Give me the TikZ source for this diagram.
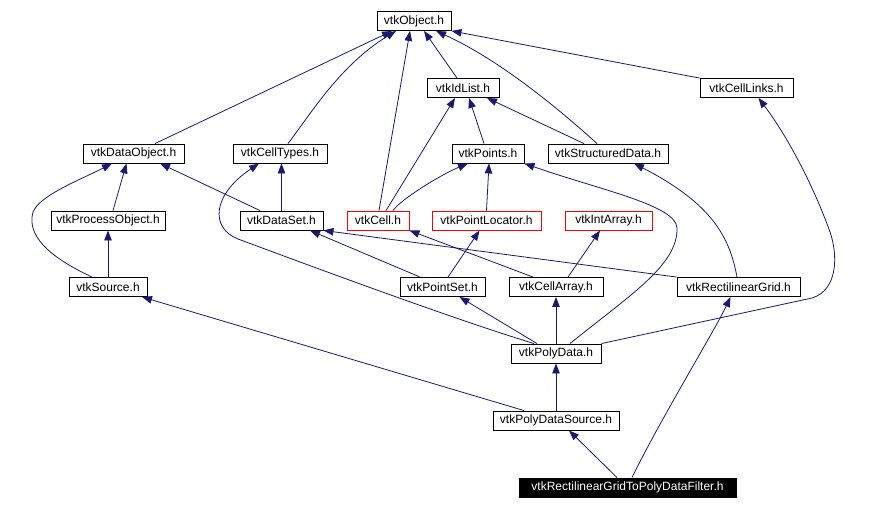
\documentclass[tikz,border=0pt]{standalone}
\usepackage{fontspec}
\setmainfont{Liberation Sans}
\usepackage{xcolor}
\usetikzlibrary{arrows.meta}
\definecolor{edgeblue}{HTML}{191970}

\begin{document}
\begin{tikzpicture}[x=1pt, y=-1pt,
    file/.style={draw, line width=0.9pt, fill=white, minimum height=19pt, inner sep=0pt, font=\fontsize{12}{14}\selectfont},
    missing/.style={file, draw=red},
    edge/.style={edgeblue, line width=0.8pt, -{Triangle[length=10pt,width=7.5pt]}}]
            \useasboundingbox (0,0) rectangle (874,509);
            \node[file, minimum width=74pt] (object) at (414,21) {vtkObject.h};
            \node[file, minimum width=72pt] (idlist) at (463,88) {vtkIdList.h};
            \node[file, minimum width=93pt] (celllinks) at (746.5,88) {vtkCellLinks.h};
            \node[file, minimum width=101pt] (dataobject) at (133.5,153.5) {vtkDataObject.h};
            \node[file, minimum width=94pt] (celltypes) at (280,153.5) {vtkCellTypes.h};
            \node[file, minimum width=72pt] (points) at (488,153.5) {vtkPoints.h};
            \node[file, minimum width=120pt] (structdata) at (608,153.5) {vtkStructuredData.h};
            \node[file, minimum width=114pt] (processobject) at (108,220.5) {vtkProcessObject.h};
            \node[file, minimum width=83pt] (dataset) at (281.5,220.5) {vtkDataSet.h};
            \node[missing, minimum width=62pt] (cell) at (378,220.5) {vtkCell.h};
            \node[missing, minimum width=109pt] (pointlocator) at (486.5,220.5) {vtkPointLocator.h};
            \node[missing, minimum width=87pt] (intarray) at (608.5,220.5) {vtkIntArray.h};
            \node[file, minimum width=78pt] (source) at (108,287) {vtkSource.h};
            \node[file, minimum width=85pt] (pointset) at (442.5,287) {vtkPointSet.h};
            \node[file, minimum width=94pt] (cellarray) at (556,287) {vtkCellArray.h};
            \node[file, minimum width=123pt] (rectgrid) at (738.5,287) {vtkRectilinearGrid.h};
            \node[file, minimum width=90pt] (polydata) at (556,353.5) {vtkPolyData.h};
            \node[file, minimum width=126pt] (polysource) at (556,420.5) {vtkPolyDataSource.h};
            \node[file, fill=black, text=white, minimum width=217pt] (filter) at (627.5,487.5) {vtkRectilinearGridToPolyDataFilter.h};
            \draw[edge] ([xshift=21.5pt]dataobject.north) -- ([xshift=-22pt]object.south);
            \draw[edge] ([xshift=8pt]celltypes.north) .. controls (310,115) and (340,65) .. ([xshift=-18pt]object.south);
            \draw[edge] ([xshift=1pt]cell.north) -- ([xshift=-4pt]object.south);
            \draw[edge] ([xshift=-6pt]idlist.north) -- ([xshift=10pt]object.south);
            \draw[edge] ([xshift=-11pt]structdata.north) .. controls (560,110) and (500,60) .. ([xshift=22pt]object.south);
            \draw[edge] (celllinks.north west) -- (object.south east);
            \draw[edge] ([xshift=8pt]cell.north) -- ([xshift=-8pt]idlist.south);
            \draw[edge] ([xshift=-4pt]points.north) -- ([xshift=6pt]idlist.south);
            \draw[edge] ([xshift=-24pt]structdata.north) -- ([xshift=24pt]idlist.south);
            \draw[edge] ([xshift=5pt]processobject.north) -- ([xshift=-7pt]dataobject.south);
            \draw[edge] ([xshift=-16pt]source.north) .. controls (60,262) and (25,240) .. (33,212) .. controls (40,195) and (80,180) .. ([xshift=-21.5pt]dataobject.south);
            \draw[edge] ([xshift=-21.5pt]dataset.north) -- ([xshift=26.5pt]dataobject.south);
            \draw[edge] (dataset.north) -- ([xshift=1.5pt]celltypes.south);
            \draw[edge] ([xshift=-22pt]polydata.north) .. controls (450,318) and (300,262) .. (238,239) .. controls (210,228) and (212,195) .. ([xshift=-21pt]celltypes.south);
            \draw[edge] (source.north) -- (processobject.south);
            \draw[edge] ([xshift=15pt]cell.north) .. controls (400,200) and (440,175) .. ([xshift=-20pt]points.south);
            \draw[edge] (pointlocator.north) -- ([xshift=1pt]points.south);
            \draw[edge] ([xshift=14pt]polydata.north) .. controls (630,295) and (678,265) .. (677,228) .. controls (676,205) and (600,190) .. (points.south east);
            \draw[edge] ([xshift=-1.5pt]rectgrid.north) .. controls (730,240) and (715,205) .. ([xshift=26pt]structdata.south);
            \draw[edge] ([xshift=-22.5pt]pointset.north) -- ([xshift=28.5pt]dataset.south);
            \draw[edge] (rectgrid.north west) -- (dataset.south east);
            \draw[edge] ([xshift=-23pt]cellarray.north) -- (cell.south east);
            \draw[edge] ([xshift=5.5pt]pointset.north) -- ([xshift=-7pt]pointlocator.south);
            \draw[edge] ([xshift=12pt]cellarray.north) -- ([xshift=-8.5pt]intarray.south);
            \draw[edge] ([xshift=-32pt]polysource.north) -- ([xshift=34pt]source.south);
            \draw[edge] ([xshift=-19pt]polydata.north) -- ([xshift=17pt]pointset.south);
            \draw[edge] (polydata.north) -- (cellarray.south);
            \draw[edge] (polydata.north east) -- (812,298) .. controls (838,290) and (838,255) .. (830,232) .. controls (815,190) and (790,140) .. ([xshift=12pt]celllinks.south);
            \draw[edge] (polysource.north) -- (polydata.south);
            \draw[edge] ([xshift=-10.5pt]filter.north) -- ([xshift=13pt]polysource.south);
            \draw[edge] ([xshift=4.5pt]filter.north) .. controls (660,420) and (715,330) .. ([xshift=-8pt]rectgrid.south);
        \end{tikzpicture}
\end{document}
